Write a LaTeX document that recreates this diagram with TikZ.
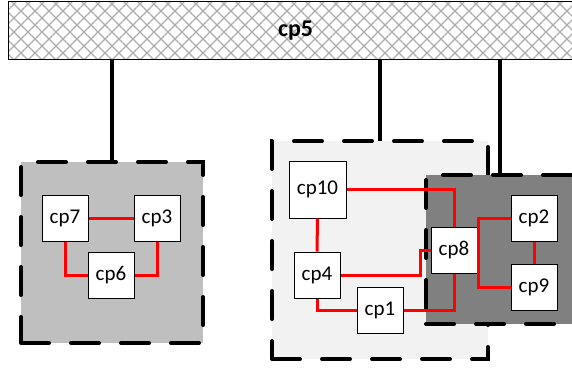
\documentclass[tikz,border=0pt]{standalone}
\usepackage{fontspec}
\setmainfont{Carlito}
\usetikzlibrary{patterns.meta,calc}
\begin{document}
\begin{tikzpicture}[x=1pt,y=-1pt,
  cpbox/.style={draw=black,line width=1pt,fill=white,minimum width=46pt,minimum height=46pt,inner sep=0pt,font=\fontsize{21}{21}\selectfont},
  zone/.style={draw=black,line width=4pt,dash pattern=on 28pt off 22pt,line cap=round,inner sep=0pt,outer sep=0pt,anchor=north west},
  wire/.style={draw=red,line width=3pt},
  trunk/.style={draw=black,line width=4pt}]
\useasboundingbox (0,0) rectangle (572,368);
\clip (0,0) rectangle (572,368);
% top bar
\node[draw=black,line width=1.3pt,pattern={Hatch[angle=45,distance=9.9pt,line width=1.2pt]},pattern color=gray!65,
      minimum width=574pt,minimum height=58pt,inner sep=0pt,anchor=north west,
      font=\bfseries\fontsize{24}{24}\selectfont] (cp5) at (8,1) {cp5};
% zones
\node[zone,fill=black!25,minimum width=182pt,minimum height=181pt] (zoneA) at (21,162) {};
\node[zone,fill=black!5,minimum width=216pt,minimum height=218pt] (zoneB) at (272,141) {};
\node[zone,fill=black!50,minimum width=148pt,minimum height=149pt] (zoneC) at (426,175) {};
% trunks
\draw[trunk] (zoneA.north) -- (zoneA.north |- cp5.south);
\draw[trunk] (zoneB.north) -- (zoneB.north |- cp5.south);
\draw[trunk] (zoneC.north) -- (zoneC.north |- cp5.south);
% nodes
\node[cpbox] (cp7) at (65,218) {cp7};
\node[cpbox] (cp3) at (157,218) {cp3};
\node[cpbox] (cp6) at (111,275.5) {cp6};
\node[cpbox,minimum width=57pt,minimum height=57pt] (cp10) at (317.5,189.5) {cp10};
\node[cpbox] (cp4) at (317,275) {cp4};
\node[cpbox] (cp1) at (380,310) {cp1};
\node[cpbox] (cp8) at (454,250) {cp8};
\node[cpbox] (cp2) at (534,218) {cp2};
\node[cpbox] (cp9) at (534,287) {cp9};
% wires
\draw[wire] (cp7.east) -- (cp3.west);
\draw[wire] (cp7.south) |- (cp6.west);
\draw[wire] (cp3.south) |- (cp6.east);
\draw[wire] (cp10.east) -| (cp8.north);
\draw[wire] (cp10.south) -- (cp4.north);
\draw[wire] (cp4.east) -| ($(cp8.west)+(-10,0)$) -- (cp8.west);
\draw[wire] (cp4.south) |- (cp1.west);
\draw[wire] (cp1.east) -| (cp8.south);
\draw[wire] (cp2.west) -| ($(cp8.east)+(1,0)$) |- (cp9.west);
\draw[wire] (cp2.south) -- (cp9.north);
\end{tikzpicture}
\end{document}
